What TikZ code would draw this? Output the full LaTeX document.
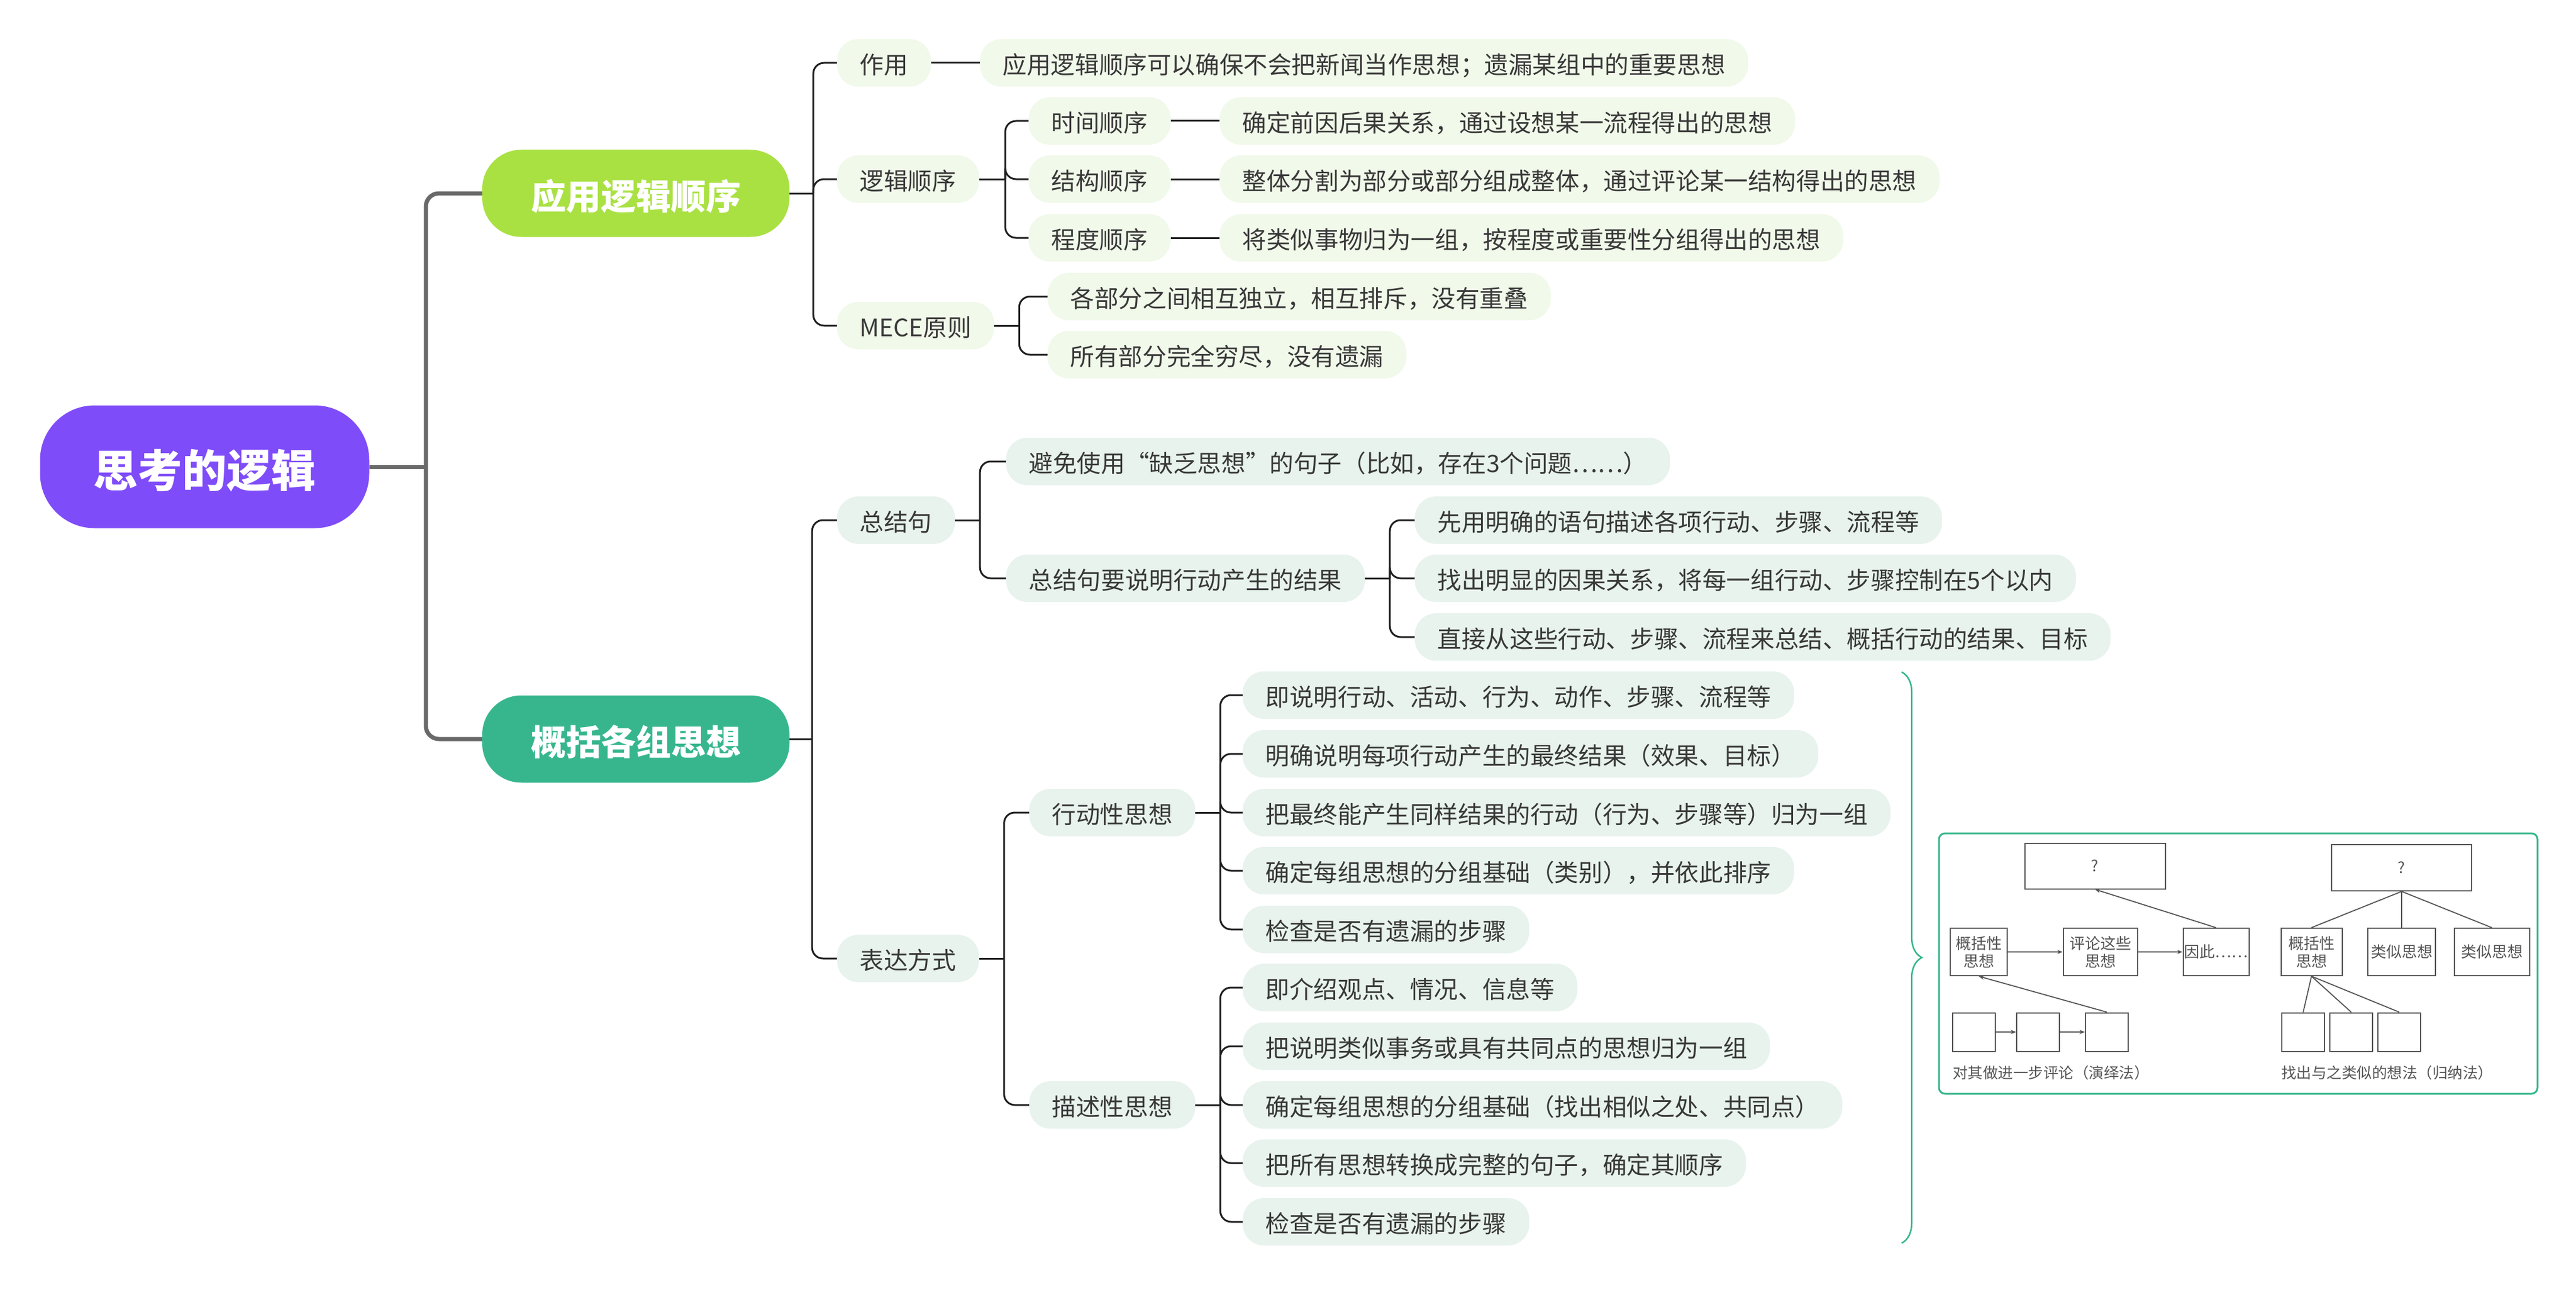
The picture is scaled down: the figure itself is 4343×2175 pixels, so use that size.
\documentclass[tikz,border=0pt]{standalone}
\usepackage{fontspec}
\setmainfont{Noto Sans CJK SC}
\usetikzlibrary{arrows.meta,decorations.pathreplacing}
\definecolor{rootc}{HTML}{7F4CF9}
\definecolor{yyc}{HTML}{A9E142}
\definecolor{gkc}{HTML}{37B68E}
\definecolor{trunkc}{HTML}{696969}
\definecolor{linkc}{HTML}{1F1F1F}
\definecolor{lfA}{HTML}{F1F9EA}
\definecolor{lfB}{HTML}{E8F3ED}
\definecolor{txtc}{HTML}{383838}
\definecolor{framec}{HTML}{35B68B}
\definecolor{boxc}{HTML}{555555}
\tikzset{
  topic/.style={text=white, font=\bfseries\fontsize{59}{64}\selectfont,
    minimum width=518pt, minimum height=147pt, rounded corners=66pt, inner sep=0pt,
    text height=54pt, text depth=0pt},
  leafA/.style={anchor=west, fill=lfA, text=txtc, rounded corners=36pt,
    minimum height=80pt, inner xsep=38.5pt, inner ysep=0pt,
    text height=37.8pt, text depth=0pt,
    font=\fontsize{40.6}{44}\selectfont},
  leafB/.style={leafA, fill=lfB},
  trunk/.style={draw=trunkc, line width=7pt, rounded corners=22pt},
  link/.style={draw=linkc, line width=3pt, rounded corners=18pt},
  pbox/.style={draw=boxc, line width=2pt, fill=white, text=boxc, inner sep=0pt,
    align=center, font=\fontsize{26}{30}\selectfont},
  pline/.style={draw=boxc, line width=1.8pt},
  parr/.style={pline, -{Stealth[length=9pt,width=7pt]}},
}
\begin{document}
\begin{tikzpicture}[x=1pt,y=-1pt]
  \fill[white] (0,0) rectangle (4343,2175);
  \useasboundingbox (0,0) rectangle (4343,2175);

  \node[fill=rootc, text=white, font=\bfseries\fontsize{75}{80}\selectfont,
    minimum width=555pt, minimum height=207pt, rounded corners=92pt,
    text height=68pt, text depth=0pt] (root) at (345,787) {思考的逻辑};
  \node[topic, fill=yyc] (yy) at (1072,326) {应用逻辑顺序};
  \node[topic, fill=gkc] (gk) at (1072,1246) {概括各组思想};
  \draw[trunk] (root.east) -- (718,787);
  \draw[trunk] (718,787) |- (yy.west);
  \draw[trunk] (718,787) |- (gk.west);

  \node[leafA] (zy) at (1411,106) {作用};
  \node[leafA] (zyt) at (1652,106) {应用逻辑顺序可以确保不会把新闻当作思想；遗漏某组中的重要思想};
  \node[leafA] (ljsx) at (1411,302) {逻辑顺序};
  \node[leafA] (sj) at (1734,204) {时间顺序};
  \node[leafA] (jg) at (1734,302) {结构顺序};
  \node[leafA] (cd) at (1734,401) {程度顺序};
  \node[leafA] (sjt) at (2056,204) {确定前因后果关系，通过设想某一流程得出的思想};
  \node[leafA] (jgt) at (2056,302) {整体分割为部分或部分组成整体，通过评论某一结构得出的思想};
  \node[leafA] (cdt) at (2056,401) {将类似事物归为一组，按程度或重要性分组得出的思想};
  \node[leafA] (mece) at (1411,549) {MECE原则};
  \node[leafA] (m1) at (1766,500) {各部分之间相互独立，相互排斥，没有重叠};
  \node[leafA] (m2) at (1766,598) {所有部分完全穷尽，没有遗漏};

  \coordinate (yyb) at ([xshift=40pt]yy.east);
  \draw[link] (yy.east) -- (yyb);
  \foreach \c in {zy,ljsx,mece} \draw[link] (yyb) |- (\c.west);
  \draw[link] (zy.east) -- (zyt.west);
  \coordinate (ljb) at ([xshift=44pt]ljsx.east);
  \draw[link] (ljsx.east) -- (ljb);
  \foreach \c in {sj,jg,cd} \draw[link] (ljb) |- (\c.west);
  \foreach \c in {sj,jg,cd} \draw[link] (\c.east) -- (\c t.west);
  \coordinate (meb) at ([xshift=42pt]mece.east);
  \draw[link] (mece.east) -- (meb);
  \foreach \c in {m1,m2} \draw[link] (meb) |- (\c.west);

  \node[leafB] (zjj) at (1411,877) {总结句};
  \node[leafB] (z1) at (1696,778) {避免使用“缺乏思想”的句子（比如，存在3个问题……）};
  \node[leafB] (z2) at (1696,975) {总结句要说明行动产生的结果};
  \node[leafB] (z21) at (2385,877) {先用明确的语句描述各项行动、步骤、流程等};
  \node[leafB] (z22) at (2385,975) {找出明显的因果关系，将每一组行动、步骤控制在5个以内};
  \node[leafB] (z23) at (2385,1074) {直接从这些行动、步骤、流程来总结、概括行动的结果、目标};
  \node[leafB] (bdfs) at (1411,1616) {表达方式};
  \node[leafB] (xd) at (1735,1370) {行动性思想};
  \node[leafB] (ms) at (1735,1863) {描述性思想};
  \node[leafB] (xd1) at (2095,1172) {即说明行动、活动、行为、动作、步骤、流程等};
  \node[leafB] (xd2) at (2095,1271) {明确说明每项行动产生的最终结果（效果、目标）};
  \node[leafB] (xd3) at (2095,1370) {把最终能产生同样结果的行动（行为、步骤等）归为一组};
  \node[leafB] (xd4) at (2095,1468) {确定每组思想的分组基础（类别），并依此排序};
  \node[leafB] (xd5) at (2095,1567) {检查是否有遗漏的步骤};
  \node[leafB] (ms1) at (2095,1665) {即介绍观点、情况、信息等};
  \node[leafB] (ms2) at (2095,1764) {把说明类似事务或具有共同点的思想归为一组};
  \node[leafB] (ms3) at (2095,1863) {确定每组思想的分组基础（找出相似之处、共同点）};
  \node[leafB] (ms4) at (2095,1961) {把所有思想转换成完整的句子，确定其顺序};
  \node[leafB] (ms5) at (2095,2060) {检查是否有遗漏的步骤};

  \coordinate (gkb) at ([xshift=38pt]gk.east);
  \draw[link] (gk.east) -- (gkb);
  \foreach \c in {zjj,bdfs} \draw[link] (gkb) |- (\c.west);
  \coordinate (zjb) at ([xshift=42pt]zjj.east);
  \draw[link] (zjj.east) -- (zjb);
  \foreach \c in {z1,z2} \draw[link] (zjb) |- (\c.west);
  \coordinate (z2b) at ([xshift=42pt]z2.east);
  \draw[link] (z2.east) -- (z2b);
  \foreach \c in {z21,z22,z23} \draw[link] (z2b) |- (\c.west);
  \coordinate (bdb) at ([xshift=42pt]bdfs.east);
  \draw[link] (bdfs.east) -- (bdb);
  \foreach \c in {xd,ms} \draw[link] (bdb) |- (\c.west);
  \coordinate (xdb) at ([xshift=42pt]xd.east);
  \draw[link] (xd.east) -- (xdb);
  \foreach \c in {xd1,xd2,xd3,xd4,xd5} \draw[link] (xdb) |- (\c.west);
  \coordinate (msb) at ([xshift=42pt]ms.east);
  \draw[link] (ms.east) -- (msb);
  \foreach \c in {ms1,ms2,ms3,ms4,ms5} \draw[link] (msb) |- (\c.west);

  \draw[framec, line width=2.5pt, decorate, decoration={brace, amplitude=34pt}] (3206,1133) -- (3206,2096);

  \draw[framec, line width=3pt, rounded corners=10pt] (3269,1405) rectangle (4278,1844);
  \node[pbox, minimum width=237pt, minimum height=77pt] (q1) at (3532,1460) {?};
  \node[pbox, minimum width=236pt, minimum height=78pt] (q2) at (4049,1463) {?};
  \node[pbox, minimum width=96pt, minimum height=80pt] (a1) at (3336,1605) {概括性\\思想};
  \node[pbox, minimum width=125pt, minimum height=80pt] (a2) at (3541,1605) {评论这些\\思想};
  \node[pbox, minimum width=111pt, minimum height=80pt] (a3) at (3736,1605) {因此……};
  \node[pbox, minimum width=103pt, minimum height=80pt] (b1) at (3897,1605) {概括性\\思想};
  \node[pbox, minimum width=114pt, minimum height=80pt] (b2) at (4049,1605) {类似思想};
  \node[pbox, minimum width=127pt, minimum height=80pt] (b3) at (4201,1605) {类似思想};
  \foreach \n/\x in {s1/3328,s2/3436,s3/3552,t1/3883,t2/3964,t3/4045}
    \node[pbox, minimum width=72pt, minimum height=65pt] (\n) at (\x,1740) {};
  \node[anchor=west, inner sep=0pt, text=boxc, font=\fontsize{25.5}{30}\selectfont] (capl) at (3292,1809) {对其做进一步评论（演绎法）};
  \node[anchor=west, inner sep=0pt, text=boxc, font=\fontsize{25.5}{30}\selectfont] (capr) at (3846,1809) {找出与之类似的想法（归纳法）};
  \draw[parr] (a1.east) -- (a2.west);
  \draw[parr] (a2.east) -- (a3.west);
  \draw[parr] (a3.north) -- (q1.south);
  \draw[parr] (s3.north) -- (a1.south);
  \draw[parr] (s1.east) -- (s2.west);
  \draw[parr] (s2.east) -- (s3.west);
  \foreach \n in {b1,b2,b3} \draw[pline] (q2.south) -- (\n.north);
  \foreach \n in {t1,t2,t3} \draw[pline] (b1.south) -- (\n.north);
\end{tikzpicture}
\end{document}
